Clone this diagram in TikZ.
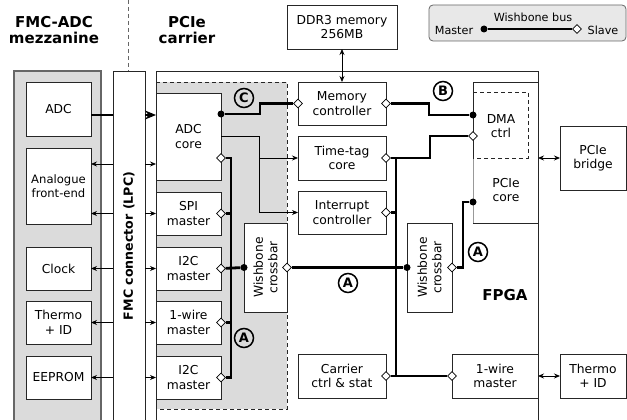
\documentclass[tikz,border=0pt]{standalone}
\usepackage{fontspec}
\setmainfont{DejaVu Sans}
\usetikzlibrary{shapes.geometric,arrows.meta}
\newcommand{\boxfont}{\fontsize{12.3}{14.5}\selectfont}
\newcommand{\smallfont}{\fontsize{11.6}{14}\selectfont}
\newcommand{\legfont}{\fontsize{11.2}{13}\selectfont}
\newcommand{\titlefont}{\fontsize{15}{15.5}\selectfont\bfseries}
\begin{document}
\begin{tikzpicture}[x=1pt,y=-1pt,line join=miter,
  blk/.style={draw=black!85,line width=0.9pt,fill=white,inner sep=0pt,outer sep=0pt,
              align=center,font=\boxfont,anchor=north west},
  lbl/.style={inner sep=0pt,align=center,font=\boxfont},
  bus/.style={line width=2.8pt},
  sig/.style={line width=0.8pt,-{Stealth[length=6pt,width=5pt]}},
  dsig/.style={line width=0.8pt,{Stealth[length=6pt,width=5pt]}-{Stealth[length=6pt,width=5pt]}},
  slave/.style={diamond,draw=black,fill=white,line width=0.8pt,inner sep=0pt,minimum size=9pt},
  master/.style={circle,fill=black,inner sep=0pt,minimum size=7pt},
  circ/.style={circle,draw=black,line width=1.5pt,inner sep=0pt,minimum size=19pt,
               font=\fontsize{13}{13}\selectfont\bfseries}]
\useasboundingbox (0,0) rectangle (627,420);

% headings
\node[lbl,font=\titlefont] (tmezz) at (54,30) {FMC-ADC\\mezzanine};
\node[lbl,font=\titlefont] (tcarr) at (187,30) {PCIe\\carrier};
\draw[black!60,line width=0.9pt,dash pattern=on 4pt off 3pt] (128,0) -- (128,71);

% mezzanine board
\node[draw=black!60,fill=black!14,line width=1.1pt,inner sep=0pt,outer sep=0pt,
      minimum width=87pt,minimum height=360pt,anchor=north west] (mezz) at (14,71) {};

% ADC subsystem region inside the FPGA
\fill[black!14] (156,82) rectangle (287,409);
\draw[black!85,line width=0.9pt,dash pattern=on 4pt off 3pt] (156,82) -- (287,82) -- (287,409) -- (156,409);

% FPGA outline
\node[draw=black!85,line width=0.9pt,inner sep=0pt,outer sep=0pt,
      minimum width=382pt,minimum height=360pt,anchor=north west] (fpga) at (156,71) {};

% FMC connector
\node[blk,minimum width=32pt,minimum height=360pt] (fmc) at (113,71) {};
\node[lbl,rotate=90,font=\fontsize{12.6}{14}\selectfont\bfseries] (fmctxt) at (129,246) {FMC connector (LPC)};

% mezzanine blocks
\node[blk,minimum width=65pt,minimum height=54pt] (adc) at (26,82) {ADC};
\node[blk,minimum width=65pt,minimum height=76pt,font=\smallfont] (afe) at (26,148) {Analogue\\front-end};
\node[blk,minimum width=65pt,minimum height=43pt] (clock) at (26,247) {Clock};
\node[blk,minimum width=65pt,minimum height=43pt] (thermoL) at (26,301) {Thermo\\+ ID};
\node[blk,minimum width=65pt,minimum height=43pt] (eeprom) at (26,356) {EEPROM};

% ADC subsystem blocks
\node[blk,minimum width=65pt,minimum height=87pt] (adccore) at (156,93) {ADC\\core};
\node[blk,minimum width=65pt,minimum height=43pt] (spi) at (156,192) {SPI\\master};
\node[blk,minimum width=65pt,minimum height=43pt] (i2ca) at (156,247) {I2C\\master};
\node[blk,minimum width=65pt,minimum height=43pt] (owa) at (156,301) {1-wire\\master};
\node[blk,minimum width=65pt,minimum height=43pt] (i2cb) at (156,356) {I2C\\master};
\node[blk,minimum width=43pt,minimum height=89pt] (xbarL) at (244,223) {};
\node[lbl,rotate=90] (xbarLt) at (xbarL.center) {Wishbone\\crossbar};

% carrier FPGA blocks
\node[blk,minimum width=88pt,minimum height=43pt] (mem) at (298,82) {Memory\\controller};
\node[blk,minimum width=88pt,minimum height=44pt] (ttag) at (298,136) {Time-tag\\core};
\node[blk,minimum width=88pt,minimum height=43pt] (irq) at (298,191) {Interrupt\\controller};
\node[blk,minimum width=88pt,minimum height=44pt] (carrier) at (298,354) {Carrier\\ctrl \& stat};
\node[blk,minimum width=86pt,minimum height=44pt] (owb) at (452,354) {1-wire\\master};
\node[blk,minimum width=45pt,minimum height=89pt] (xbarR) at (407,223) {};
\node[lbl,rotate=90] (xbarRt) at (xbarR.center) {Wishbone\\crossbar};

% PCIe core with embedded DMA controller
\node[inner sep=0pt,outer sep=0pt,minimum width=65pt,minimum height=141pt,anchor=north west] (pcie) at (473,82) {};
\draw[black!85,line width=0.9pt] (pcie.south west) -- (pcie.south east);
\draw[black!85,line width=0.9pt] (pcie.north east) -- (pcie.north west) -- (473,158);
\draw[black!40,line width=0.7pt] (473,158) -- (pcie.south west);
\draw[black!85,line width=0.9pt,dash pattern=on 4pt off 3pt] (473,92) -- (528,92) -- (528,158) -- (473,158);
\node[lbl] (dmatxt) at (501,126) {DMA\\ctrl};
\node[lbl] (pcietxt) at (506,190) {PCIe\\core};
\node[lbl,font=\titlefont] (fpgatxt) at (505,295) {FPGA};

% external carrier parts
\node[blk,minimum width=110pt,minimum height=44pt] (ddr) at (287,5) {DDR3 memory\\256MB};
\node[blk,minimum width=66pt,minimum height=64pt] (bridge) at (560,126) {PCIe\\bridge};
\node[blk,minimum width=66pt,minimum height=44pt] (thermoR) at (560,354) {Thermo\\+ ID};

% legend
\node[draw=black!60,fill=black!9,line width=0.8pt,rounded corners=4pt,inner sep=0pt,outer sep=0pt,
      minimum width=197pt,minimum height=36pt,anchor=north west] (legend) at (429,5) {};
\node[lbl,font=\legfont] (legbus) at (533,17) {Wishbone bus};
\node[lbl,font=\legfont] (legm) at (454,30) {Master};
\node[lbl,font=\legfont] (legs) at (603,30) {Slave};
\node[master] (lm) at (484,29) {};
\node[slave] (ls) at (577,29) {};
\draw[bus] (lm) -- (ls);

% signals through the FMC connector
\coordinate (r0) at (0,115);
\coordinate (r1) at (0,164);
\draw[line width=2.8pt] (adc.east |- r0) -- (fmc.west |- r0);
\draw[line width=2.8pt,-{Stealth[length=11pt,width=9pt]}] (fmc.east |- r0) -- (adccore.west |- r0);
\draw[sig] (fmc.west |- r1) -- (afe.east |- r1);
\draw[sig] (fmc.east |- r1) -- (adccore.west |- r1);
\draw[sig] (fmc.west |- spi.west) -- (afe.east |- spi.west);
\draw[sig] (fmc.east |- spi.west) -- (spi.west);
\draw[sig] (fmc.west |- i2ca.west) -- (clock.east |- i2ca.west);
\draw[sig] (fmc.east |- i2ca.west) -- (i2ca.west);
\draw[sig] (fmc.west |- owa.west) -- (thermoL.east |- owa.west);
\draw[sig] (fmc.east |- owa.west) -- (owa.west);
\draw[sig] (fmc.west |- i2cb.west) -- (eeprom.east |- i2cb.west);
\draw[sig] (fmc.east |- i2cb.west) -- (i2cb.west);

% ADC core side signals
\draw[sig] (adccore.east |- ttag.north) -- ++(38,0) |- (ttag.west);
\draw[sig] (adccore.east |- ttag.north) -- ++(38,0) |- (irq.west);

% point-to-point links
\draw[dsig] (ddr) -- (mem);
\draw[dsig] (fpga.east |- bridge.west) -- (bridge.west);
\draw[dsig] (owb.east) -- (thermoR.west);

% Wishbone masters and slaves
\node[slave] (s1) at (221,158) {};
\node[slave] (s2) at (spi.east) {};
\node[slave] (s3) at (i2ca.east) {};
\node[slave] (s4) at (owa.east) {};
\node[slave] (s5) at (i2cb.east) {};
\node[master] (m1) at (xbarL.west) {};
\node[slave] (s6) at (xbarL.east) {};
\node[master] (m2) at (xbarR.west) {};
\node[slave] (s14) at (xbarR.east) {};
\node[slave] (s7) at (ttag.east) {};
\node[slave] (s8) at (irq.east) {};
\node[slave] (s9) at (carrier.east) {};
\node[slave] (s10) at (owb.west) {};
\node[slave] (s11) at (473,136) {};
\node[slave] (s12) at (mem.east) {};
\node[slave] (s13) at (mem.west) {};
\node[master] (m3) at (473,115) {};
\node[master] (m4) at (221,114) {};
\node[master] (m5) at (473,202) {};

% bus A, ADC side
\coordinate (lb) at (231,377.5);
\draw[bus] (s1) -| (lb) -- (s5);
\draw[bus] (s2) -- (s2 -| lb);
\draw[bus] (s4) -- (s4 -| lb);
\draw[bus] (s3) -- (m1);
% bus A, between crossbars
\draw[bus] (s6) -- (m2);
% bus A, carrier side
\coordinate (cb) at (396,158);
\draw[bus] (s7) -- (430,158) |- (s11);
\draw[bus] (cb) -- (cb |- s9);
\draw[bus] (s8) -- (s8 -| cb);
\draw[bus] (s9) -- (s10);
% bus A, to the PCIe core
\draw[bus] (s14) -- ++(11,0) |- (m5);
% bus B
\draw[bus] (s12) -- (429,103.5) |- (m3);
% bus C
\draw[bus] (m4) -- (260,114) |- (s13);

% bus labels
\node[circ] (labC) at (244,98) {C};
\node[circ] (labB) at (443,91) {B};
\node[circ] (labA1) at (244,338) {A};
\node[circ] (labA2) at (348,283) {A};
\node[circ] (labA3) at (478,252) {A};
\end{tikzpicture}
\end{document}
